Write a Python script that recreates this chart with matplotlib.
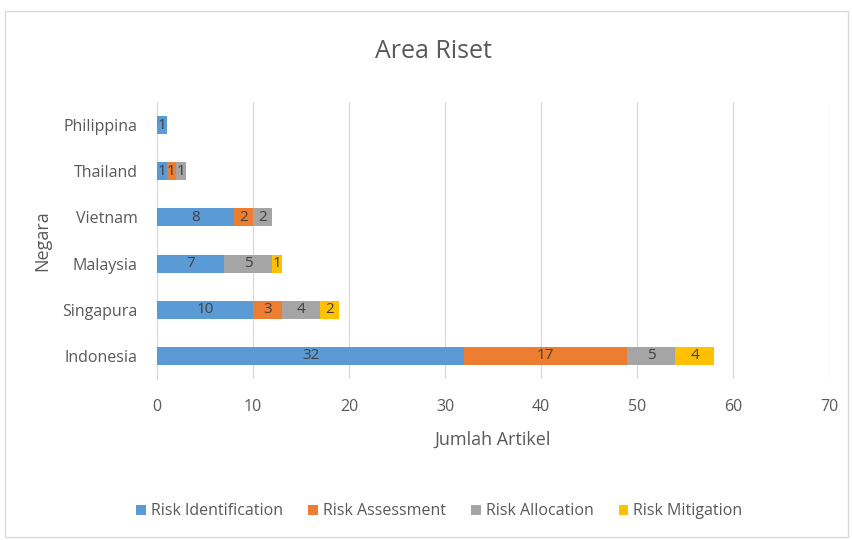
import numpy as np
import matplotlib; matplotlib.use('Agg')
import matplotlib.pyplot as plt
from matplotlib.patches import Rectangle

plt.rcParams['font.family'] = ['Liberation Sans Narrow', 'Open Sans', 'DejaVu Sans']

negara = ['Indonesia', 'Singapura', 'Malaysia', 'Vietnam', 'Thailand', 'Philippina']
series = ['Risk Identification', 'Risk Assessment', 'Risk Allocation', 'Risk Mitigation']
identification = [32, 10, 7, 8, 1, 1]
assessment = [17, 3, 0, 2, 1, 0]
allocation = [5, 4, 5, 2, 1, 0]
mitigation = [4, 2, 1, 0, 0, 0]
colors = ['#5B9BD5', '#ED7D31', '#A5A5A5', '#FFC000']

txt = '#595959'
fig = plt.figure(figsize=(8.53, 5.4), dpi=100)
ax = fig.add_axes([0.184, 0.298, 0.788, 0.513])

y = np.arange(len(negara))
left = np.zeros(len(negara))
for name, vals, c in zip(series, [identification, assessment, allocation, mitigation], colors):
    vals = np.array(vals, dtype=float)
    bars = ax.barh(y, vals, left=left, height=0.39, color=c, label=name, zorder=3)
    for b, v in zip(bars, vals):
        if v > 0:
            ax.text(b.get_x() + b.get_width() / 2, b.get_y() + b.get_height() / 2,
                    f'{int(v)}', ha='center', va='center', fontsize=11, color='#404040', zorder=4)
    left += vals

ax.set_xlim(0, 70)
ax.set_ylim(-0.5, len(negara) - 0.5)
ax.set_xticks(range(0, 71, 10))
ax.set_yticks(y)
ax.set_yticklabels(negara)
ax.grid(axis='x', color='#D9D9D9', linewidth=0.9, zorder=0)
for s in ax.spines.values():
    s.set_visible(False)
ax.spines['left'].set_visible(True)
ax.spines['left'].set_color('#D9D9D9')
ax.tick_params(length=0, colors=txt, labelsize=11.5)
ax.tick_params(axis='x', pad=14)
ax.tick_params(axis='y', pad=14)
ax.set_xlabel('Jumlah Artikel', fontsize=13, color=txt, labelpad=12)
ax.set_ylabel('Negara', fontsize=13, color=txt, labelpad=8)

fig.text(0.508, 0.905, 'Area Riset', ha='center', va='center', fontsize=18, color=txt)
fig.legend(loc='center', bbox_to_anchor=(0.515, 0.053), ncol=4, frameon=False,
           fontsize=11.5, handlelength=0.6, handleheight=0.6, handletextpad=0.3,
           columnspacing=1.6, labelcolor=txt)
fig.patches.append(Rectangle((0.006, 0.005), 0.988, 0.975, transform=fig.transFigure,
                             fill=False, edgecolor='#D9D9D9', linewidth=1))

fig.savefig('out.png', dpi=100)
